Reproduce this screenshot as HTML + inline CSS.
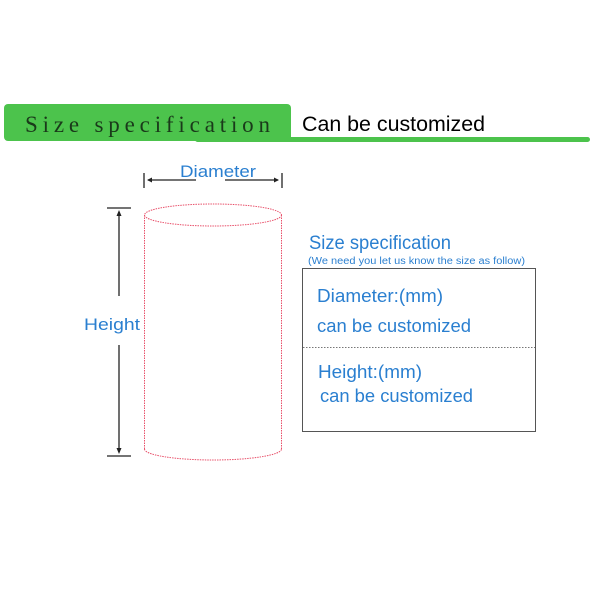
<!DOCTYPE html>
<html><head><meta charset="utf-8"><style>
html,body{margin:0;padding:0;background:#fff;width:600px;height:600px;overflow:hidden}
</style></head><body>
<svg width="600" height="600" xmlns="http://www.w3.org/2000/svg">
<rect x="4" y="104" width="287" height="37" rx="4" fill="#4cc34c"/>
<rect x="195" y="137" width="395" height="5" rx="2.5" fill="#4cc34c"/>
<text x="25" y="132" font-family="Liberation Serif, serif" font-size="23" fill="#1a3a1a" textLength="245" lengthAdjust="spacing">Size specification</text>
<text x="302" y="131" font-family="Liberation Sans, sans-serif" font-size="21" fill="#000" textLength="183" lengthAdjust="spacingAndGlyphs">Can be customized</text>

<g stroke="#222" stroke-width="1.3" fill="#222">
<line x1="144" y1="173" x2="144" y2="188"/>
<line x1="282" y1="173" x2="282" y2="188"/>
<line x1="148" y1="180" x2="196" y2="180"/>
<line x1="225" y1="180" x2="278" y2="180"/>
<path d="M147 180 l5 -2.5 v5z M279 180 l-5 -2.5 v5z" stroke="none"/>
<line x1="107" y1="208" x2="131" y2="208"/>
<line x1="107" y1="456" x2="131" y2="456"/>
<line x1="119" y1="212" x2="119" y2="296"/>
<line x1="119" y1="345" x2="119" y2="452"/>
<path d="M119 210 l-2.5 6 h5z M119 454 l-2.5 -6 h5z" stroke="none"/>
</g>
<text x="180" y="177" font-family="Liberation Sans, sans-serif" font-size="17" fill="#2a7fd0" textLength="76" lengthAdjust="spacingAndGlyphs">Diameter</text>
<text x="84" y="330" font-family="Liberation Sans, sans-serif" font-size="17" fill="#2a7fd0" textLength="56" lengthAdjust="spacingAndGlyphs">Height</text>

<g stroke="#e8506a" stroke-width="1" fill="none" stroke-dasharray="1.5 1">
<ellipse cx="213" cy="215" rx="68.5" ry="11"/>
<line x1="144.5" y1="215" x2="144.5" y2="449"/>
<line x1="281.5" y1="215" x2="281.5" y2="449"/>
<path d="M144.5 449 A68.5 11 0 0 0 281.5 449"/>
</g>

<text x="309" y="249" font-family="Liberation Sans, sans-serif" font-size="19" fill="#2a7fd0" textLength="142" lengthAdjust="spacingAndGlyphs">Size specification</text>
<text x="308" y="264" font-family="Liberation Sans, sans-serif" font-size="10" fill="#2a7fd0" textLength="217" lengthAdjust="spacingAndGlyphs">(We need you let us know the size as follow)</text>
<rect x="302.5" y="268.5" width="233" height="163" fill="none" stroke="#555" stroke-width="1"/>
<line x1="303" y1="347.5" x2="535" y2="347.5" stroke="#777" stroke-dasharray="1.5 1.5"/>
<g font-family="Liberation Sans, sans-serif" font-size="18" fill="#2a7fd0" lengthAdjust="spacingAndGlyphs">
<text x="317" y="302" textLength="126" lengthAdjust="spacingAndGlyphs">Diameter:(mm)</text>
<text x="317" y="332" textLength="154" lengthAdjust="spacingAndGlyphs">can be customized</text>
<text x="318" y="378" textLength="104" lengthAdjust="spacingAndGlyphs">Height:(mm)</text>
<text x="320" y="402" textLength="153" lengthAdjust="spacingAndGlyphs">can be customized</text>
</g>
</svg>
</body></html>
